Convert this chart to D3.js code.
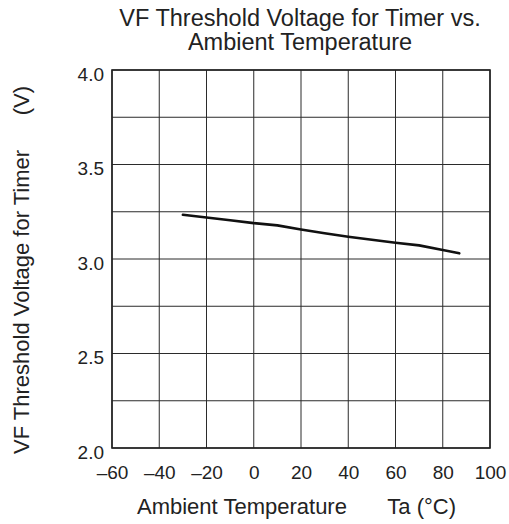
<!DOCTYPE html>
<html>
<head>
<meta charset="utf-8">
<script src="https://cdn.jsdelivr.net/npm/d3@7"></script>
<style>
  html, body { margin: 0; padding: 0; background: #fff; }
  svg { display: block; font-family: "Liberation Sans", Arial, sans-serif; }
</style>
</head>
<body>
<svg id="chart" width="509" height="524"></svg>
<script>
const titleLines = ["VF Threshold Voltage for Timer vs.", "Ambient Temperature"];
const xTitleMain = "Ambient Temperature";
const xTitleUnit = "Ta (\u00B0C)";
const yTitleMain = "VF Threshold Voltage for Timer";
const yTitleUnit = "(V)";
const xTicks = [-60, -40, -20, 0, 20, 40, 60, 80, 100];
const yTicks = [2.0, 2.25, 2.5, 2.75, 3.0, 3.25, 3.5, 3.75, 4.0];
const yLabelTicks = [2.0, 2.5, 3.0, 3.5, 4.0];
const temps = [-30, -20, -10, 0, 10, 20, 30, 40, 50, 60, 70, 80, 87];
const volts = [3.234, 3.22, 3.205, 3.19, 3.178, 3.156, 3.136, 3.118, 3.102, 3.086, 3.072, 3.048, 3.03];

const svg = d3.select("#chart");
const m = { left: 112, right: 490, top: 70, bottom: 448 };
const x = d3.scaleLinear().domain([-60, 100]).range([m.left, m.right]);
const y = d3.scaleLinear().domain([2.0, 4.0]).range([m.bottom, m.top]);

const fmtX = d => (d < 0 ? "\u2013" + Math.abs(d) : String(d));

// grid
const g = svg.append("g");
g.selectAll("line.vx").data(xTicks).enter().append("line")
  .attr("x1", d => x(d)).attr("x2", d => x(d))
  .attr("y1", m.top).attr("y2", m.bottom)
  .attr("stroke", "#2b2b2b").attr("stroke-width", 1);
g.selectAll("line.hy").data(yTicks).enter().append("line")
  .attr("x1", m.left).attr("x2", m.right)
  .attr("y1", d => y(d)).attr("y2", d => y(d))
  .attr("stroke", "#2b2b2b").attr("stroke-width", 1);
g.append("rect").attr("x", m.left).attr("y", m.top)
  .attr("width", m.right - m.left).attr("height", m.bottom - m.top)
  .attr("fill", "none").attr("stroke", "#222").attr("stroke-width", 1.6);

// axes labels via d3 axes (no domain/ticks lines)
const xAxis = svg.append("g").attr("transform", `translate(0,${m.bottom})`)
  .call(d3.axisBottom(x).tickValues(xTicks).tickFormat(fmtX).tickSize(0).tickPadding(18));
const yAxis = svg.append("g").attr("transform", `translate(${m.left},0)`)
  .call(d3.axisLeft(y).tickValues(yLabelTicks).tickFormat(d3.format(".1f")).tickSize(0).tickPadding(8));
[xAxis, yAxis].forEach(a => {
  a.select(".domain").remove();
  a.selectAll("text").attr("font-size", 19).attr("fill", "#222")
    .attr("font-family", "Liberation Sans, Arial, sans-serif");
});
yAxis.selectAll("text").attr("dy", "0.55em");

// data line
const line = d3.line().x((d, i) => x(temps[i])).y(d => y(d));
svg.append("path").datum(volts).attr("d", line)
  .attr("fill", "none").attr("stroke", "#111").attr("stroke-width", 2.6)
  .attr("stroke-linejoin", "round").attr("stroke-linecap", "round");

// title
svg.append("text").attr("x", 300).attr("y", 26).attr("text-anchor", "middle")
  .attr("font-size", 23.5).attr("fill", "#222").text(titleLines[0]);
svg.append("text").attr("x", 300).attr("y", 50).attr("text-anchor", "middle")
  .attr("font-size", 23.5).attr("fill", "#222").text(titleLines[1]);

// x title
svg.append("text").attr("x", 137).attr("y", 514).attr("font-size", 22).attr("fill", "#222").text(xTitleMain);
svg.append("text").attr("x", 456).attr("y", 514).attr("text-anchor", "end")
  .attr("font-size", 22).attr("fill", "#222").text(xTitleUnit);

// y title
svg.append("text").attr("transform", "translate(29,454) rotate(-90)")
  .attr("font-size", 22).attr("fill", "#222").text(yTitleMain);
svg.append("text").attr("transform", "translate(29,86) rotate(-90)")
  .attr("text-anchor", "end")
  .attr("font-size", 22).attr("fill", "#222").text(yTitleUnit);
</script>
</body>
</html>
